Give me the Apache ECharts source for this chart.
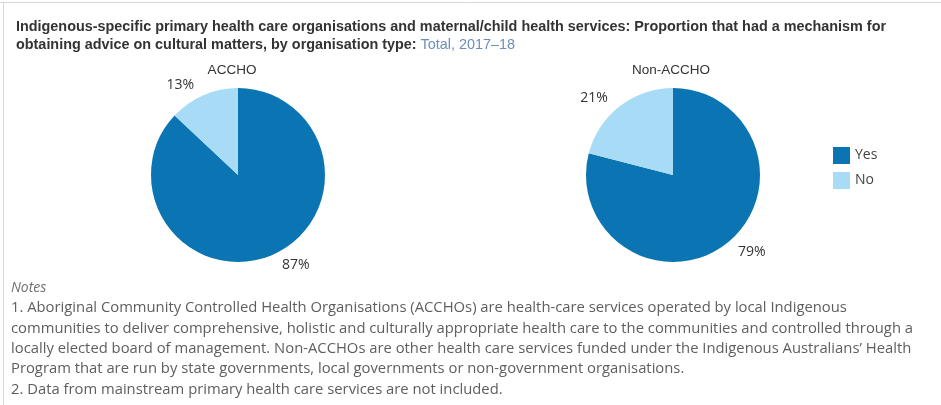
<!DOCTYPE html>
<html>
<head>
<meta charset="utf-8">
<script src="https://cdn.jsdelivr.net/npm/echarts@6/dist/echarts.min.js"></script>
<style>
  html, body { margin: 0; padding: 0; background: #fff; }
  #chart { width: 941px; height: 405px; }
</style>
</head>
<body>
<div id="chart"></div>
<script>
// Organisation types and share of each answer (per cent)
const orgTypes = ['ACCHO', 'Non-ACCHO'];
const answers = ['Yes', 'No'];
const yesValues = [87, 79];
const noValues = [13, 21];

const titleLine1 = 'Indigenous-specific primary health care organisations and maternal/child health services: Proportion that had a mechanism for';
const titleLine2 = 'obtaining advice on cultural matters, by organisation type: ';
const titleFilter = 'Total, 2017\u201318';

const notesHeading = 'Notes';
const notesLines = [
  '1. Aboriginal Community Controlled Health Organisations (ACCHOs) are health-care services operated by local Indigenous',
  'communities to deliver comprehensive, holistic and culturally appropriate health care to the communities and controlled through a',
  'locally elected board of management. Non-ACCHOs are other health care services funded under the Indigenous Australians\u2019 Health',
  'Program that are run by state governments, local governments or non-government organisations.',
  '2. Data from mainstream primary health care services are not included.'
];

const colors = ['#0b75b4', '#a8dbf5'];
const font = '"Liberation Sans", Arial, sans-serif';
const noteFont = '"Open Sans", "Liberation Sans", sans-serif';

const chart = echarts.init(document.getElementById('chart'), null, { renderer: 'canvas' });

const centers = [[238, 175], [673, 175]];

const series = orgTypes.map((name, i) => ({
  type: 'pie',
  name: name,
  center: centers[i],
  radius: 87,
  startAngle: 90,
  clockwise: true,
  silent: true,
  avoidLabelOverlap: false,
  label: {
    show: true,
    position: 'outside',
    formatter: '{c}%',
    fontFamily: noteFont,
    fontSize: 14,
    color: '#333'
  },
  labelLine: { show: false, length: 11, length2: 0 },
  itemStyle: { borderWidth: 0 },
  data: [
    { name: answers[0], value: yesValues[i] },
    { name: answers[1], value: noValues[i] }
  ]
}));

// Pie headings, centred above each pie
const headings = orgTypes.map((name, i) => ({
  type: 'text',
  x: centers[i][0] - 6 + (i === 1 ? 4 : 0),
  y: 70,
  style: {
    text: name, font: '13.5px ' + font, fill: '#333',
    textAlign: 'center', textVerticalAlign: 'middle'
  }
}));

chart.setOption({
  animation: false,
  color: colors,
  title: {
    left: 11, top: 13,
    text: '{b|' + titleLine1 + '}\n{b|' + titleLine2 + '}{f|' + titleFilter + '}',
    textStyle: {
      rich: {
        b: { fontFamily: font, fontSize: 14.4, fontWeight: 'bold', color: '#333', lineHeight: 18 },
        f: { fontFamily: font, fontSize: 14.4, fontWeight: 'normal', color: '#6b8fb8', lineHeight: 18 }
      }
    }
  },
  legend: {
    orient: 'vertical',
    left: 828, top: 142,
    itemWidth: 17, itemHeight: 17, itemGap: 8,
    icon: 'rect',
    data: answers,
    textStyle: { fontFamily: noteFont, fontSize: 14, color: '#444' },
    selectedMode: false
  },
  graphic: [
    {
      type: 'line', shape: { x1: 0, y1: 2.5, x2: 941, y2: 2.5 },
      style: { stroke: '#d6d6d6', lineWidth: 1 }, silent: true
    },
    {
      type: 'line', shape: { x1: 3.5, y1: 2, x2: 3.5, y2: 405 },
      style: { stroke: '#d6d6d6', lineWidth: 1 }, silent: true
    },
    ...headings,
    {
      type: 'text', left: 11, top: 281,
      style: { text: notesHeading, font: 'italic 14px ' + noteFont, fill: '#707070' }
    },
    {
      type: 'text', left: 11, top: 298,
      style: { text: notesLines.join('\n'), font: '14.8px ' + noteFont, fill: '#5e5e5e', lineHeight: 20.3 }
    }
  ],
  series: series
});
</script>
</body>
</html>
